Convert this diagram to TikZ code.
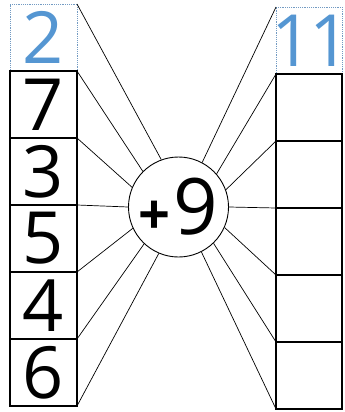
\documentclass[tikz,border=0pt]{standalone}
\usepackage{fontspec}
\setmainfont{Open Sans}
\usepackage{tikz}
\usetikzlibrary{positioning}
\definecolor{traceblue}{RGB}{85,150,210}
\definecolor{traceframe}{RGB}{115,155,195}

\begin{document}
\begin{tikzpicture}[
  x=1pt,y=-1pt,
  node distance=0pt,
  numbox/.style={draw,line width=1.2pt,minimum height=67pt,inner sep=0pt,
                 outer sep=0pt,font=\fontsize{72}{72}\selectfont},
  leftbox/.style={numbox,minimum width=67pt},
  rightbox/.style={numbox,minimum width=66pt},
  tracebox/.style={draw=traceframe,densely dotted,line width=0.9pt,text=traceblue},
  ray/.style={line width=0.7pt}
]
\useasboundingbox (0,0) rectangle (345,412);
% left column
\node[leftbox,tracebox] (l0) at (43.5,37.5) {2};
\node[leftbox,below=of l0] (l1) {7};
\node[leftbox,below=of l1] (l2) {3};
\node[leftbox,below=of l2] (l3) {5};
\node[leftbox,below=of l3] (l4) {4};
\node[leftbox,below=of l4] (l5) {6};
% right column
\node[rightbox,tracebox] (r0) at (309,40.5)
  {\hspace{4pt}\makebox[24pt]{1}\hspace{14pt}\makebox[24pt]{1}};
\node[rightbox,below=of r0] (r1) {};
\node[rightbox,below=of r1] (r2) {};
\node[rightbox,below=of r2] (r3) {};
\node[rightbox,below=of r3] (r4) {};
\node[rightbox,below=of r4] (r5) {};
% operator
\node[draw,circle,minimum size=100pt,inner sep=0pt,line width=0.9pt] (op) at (178.5,207)
  {{\fontsize{56}{56}\selectfont\bfseries +}\hspace{3pt}{\fontsize{78}{78}\selectfont 9}};
% rays
\draw[ray] (l0.north east)--(op.110);
\draw[ray] (l1.north east)--(op.135);
\draw[ray] (l2.north east)--(op.157);
\draw[ray] (l3.north east)--(op.180);
\draw[ray] (l4.north east)--(op.205);
\draw[ray] (l5.north east)--(op.227);
\draw[ray] (l5.south east)--(op.247);
\draw[ray] (r0.north west)--(op.62);
\draw[ray] (r1.north west)--(op.41);
\draw[ray] (r2.north west)--(op.20);
\draw[ray] (r3.north west)--(op.0);
\draw[ray] (r4.north west)--(op.-24);
\draw[ray] (r5.north west)--(op.-46);
\draw[ray] (r5.south west)--(op.-63);
\end{tikzpicture}
\end{document}
